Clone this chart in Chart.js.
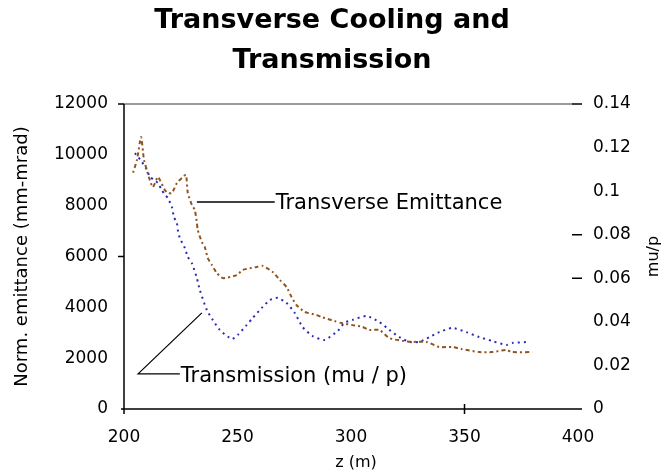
<!DOCTYPE html>
<html>
<head>
<meta charset="utf-8">
<script src="https://cdn.jsdelivr.net/npm/chart.js@4/dist/chart.umd.min.js"></script>
<style>
html,body{margin:0;padding:0;background:#fff;}
canvas{display:block;}
</style>
</head>
<body>
<canvas id="c" width="664" height="473"></canvas>
<script>
// ---- data ----
const titleLines = ['Transverse Cooling and', 'Transmission'];
const xTitle = 'z (m)';
const yLeftTitle = 'Norm. emittance (mm-mrad)';
const yRightTitle = 'mu/p';
const emitLabel = 'Transverse Emittance';
const transLabel = 'Transmission (mu / p)';

// Transverse emittance (left axis, mm-mrad)
const emitZ = [204, 205.7, 207.5, 208.4, 208.8, 211.4, 212.7, 214.9, 215.8, 218, 219.3, 221.1, 223.3, 225.5, 227.3, 228.1, 229.9, 231.2, 232.1, 232.5, 234.3, 235.6, 236.9, 238.7, 240.9, 243.5, 249.7, 252.3, 258.5, 261.1, 265.5, 268.6, 271.6, 273.8, 276, 279.6, 284.8, 287, 292.7, 295.8, 300.7, 305.1, 308.1, 312.5, 316.9, 322.6, 327, 333.2, 338.9, 344.6, 348.6, 356.5, 362.2, 368.4, 371, 379.8];
const emitVals = [9300, 9800, 10700, 10100, 9800, 9000, 8730, 9130, 9010, 8620, 8500, 8500, 8890, 9090, 9210, 8500, 8030, 7830, 7320, 7040, 6570, 6370, 5940, 5670, 5350, 5150, 5270, 5470, 5590, 5630, 5390, 5080, 4800, 4410, 4090, 3820, 3700, 3620, 3460, 3380, 3300, 3230, 3110, 3110, 2790, 2680, 2640, 2640, 2440, 2440, 2360, 2240, 2240, 2320, 2240, 2240];

// Transmission (right axis, mu/p)
const transZ = [204.8, 207.9, 210.1, 211.4, 213.6, 214.9, 216.7, 218, 219.3, 221.1, 222, 223.3, 223.7, 224.6, 226.8, 228.1, 229.9, 232.1, 233.4, 236.5, 239.1, 242.2, 247.5, 250.1, 254.1, 256.7, 260.7, 264.2, 267.7, 271.6, 275.2, 278.7, 283.1, 288.4, 294.1, 297.1, 300.7, 306.8, 312.5, 316.9, 321.3, 325.7, 330.1, 334.5, 338.9, 344.6, 350.8, 356.5, 362.2, 368.4, 371, 378.5];
const transVals = [0.1175, 0.1134, 0.1097, 0.1065, 0.1051, 0.1037, 0.1005, 0.0982, 0.0969, 0.0927, 0.0881, 0.0854, 0.0822, 0.0785, 0.0739, 0.0698, 0.0670, 0.0601, 0.0546, 0.0454, 0.0409, 0.0363, 0.0321, 0.0340, 0.0386, 0.0418, 0.0464, 0.0500, 0.0510, 0.0487, 0.0441, 0.0376, 0.0335, 0.0317, 0.0358, 0.0395, 0.0409, 0.0427, 0.0399, 0.0363, 0.0330, 0.0308, 0.0308, 0.0330, 0.0353, 0.0372, 0.0353, 0.0330, 0.0312, 0.0294, 0.0303, 0.0308];

// axis ranges
const xRange = [200, 400, 50];
const yRange = [0, 12000, 2000];
const y1Range = [0, 0.14, 0.02];

// ---- chart ----
const FONT = "'DejaVu Sans', 'Liberation Sans', sans-serif";
const toPts = (xs, ys) => xs.map((x, i) => ({x: x, y: ys[i]}));

const decoPlugin = {
  id: 'deco',
  beforeDraw(chart) {
    const ctx = chart.ctx;
    ctx.save();
    ctx.fillStyle = '#fff';
    ctx.fillRect(0, 0, chart.width, chart.height);
    ctx.restore();
  },
  afterDraw(chart) {
    const ctx = chart.ctx;
    const x = chart.scales.x, y = chart.scales.y, y1 = chart.scales.y1;
    const ca = chart.chartArea;
    ctx.save();
    // top grey line at the max of the left axis
    ctx.strokeStyle = '#9a9a9a';
    ctx.lineWidth = 2;
    ctx.beginPath();
    ctx.moveTo(ca.left, y.getPixelForValue(yRange[1]));
    ctx.lineTo(ca.right - 6, y.getPixelForValue(yRange[1]));
    ctx.stroke();
    // axes
    ctx.strokeStyle = '#000';
    ctx.lineWidth = 1.5;
    ctx.beginPath();
    ctx.moveTo(ca.left, ca.top);
    ctx.lineTo(ca.left, ca.bottom + 5);
    ctx.moveTo(ca.left - 3, ca.bottom);
    ctx.lineTo(ca.right + 4, ca.bottom);
    // left ticks
    [12000, 6000].forEach(v => {
      const py = y.getPixelForValue(v);
      ctx.moveTo(ca.left - 6, py); ctx.lineTo(ca.left, py);
    });
    // bottom ticks
    [200, 350].forEach(v => {
      const px = x.getPixelForValue(v);
      ctx.moveTo(px, ca.bottom - 5); ctx.lineTo(px, ca.bottom + 5);
    });
    // right ticks
    [0.14, 0.08, 0.06].forEach(v => {
      const py = y1.getPixelForValue(v);
      ctx.moveTo(ca.right - 6, py); ctx.lineTo(ca.right + 4, py);
    });
    ctx.stroke();

    // annotations
    ctx.lineWidth = 1.5;
    ctx.strokeStyle = '#000';
    ctx.beginPath();
    ctx.moveTo(x.getPixelForValue(232.1), y.getPixelForValue(8140));
    ctx.lineTo(x.getPixelForValue(266.4), y.getPixelForValue(8140));
    ctx.stroke();
    ctx.lineWidth = 1.2;
    ctx.beginPath();
    ctx.moveTo(x.getPixelForValue(234.3), y.getPixelForValue(3780));
    ctx.lineTo(x.getPixelForValue(206.2), y.getPixelForValue(1380));
    ctx.lineTo(x.getPixelForValue(224.6), y.getPixelForValue(1380));
    ctx.stroke();

    ctx.fillStyle = '#000';
    ctx.textBaseline = 'middle';
    ctx.textAlign = 'left';
    ctx.font = '21px ' + FONT;
    ctx.fillText(emitLabel, x.getPixelForValue(266.8), y.getPixelForValue(8100));
    ctx.fillText(transLabel, x.getPixelForValue(225), y.getPixelForValue(1260));

    // axis titles
    ctx.textAlign = 'center';
    ctx.font = '16px ' + FONT;
    ctx.fillText(xTitle, (ca.left + ca.right) / 2 + 5, 463);

    ctx.save();
    ctx.translate(22, (ca.top + ca.bottom) / 2);
    ctx.rotate(-Math.PI / 2);
    ctx.font = '18px ' + FONT;
    ctx.fillText(yLeftTitle, 0, 0);
    ctx.restore();

    ctx.save();
    ctx.translate(654, (ca.top + ca.bottom) / 2);
    ctx.rotate(-Math.PI / 2);
    ctx.font = '16px ' + FONT;
    ctx.fillText(yRightTitle, 0, 0);
    ctx.restore();

    ctx.restore();
  }
};

new Chart(document.getElementById('c'), {
  type: 'line',
  data: {
    datasets: [
      {
        label: emitLabel,
        data: toPts(emitZ, emitVals),
        yAxisID: 'y',
        borderColor: '#8f5420',
        borderWidth: 2,
        borderDash: [2, 3, 4, 3],
        pointRadius: 0,
        tension: 0.2,
        fill: false
      },
      {
        label: transLabel,
        data: toPts(transZ, transVals),
        yAxisID: 'y1',
        borderColor: '#2a2ab8',
        borderWidth: 2,
        borderDash: [2, 4],
        pointRadius: 0,
        tension: 0.2,
        fill: false
      }
    ]
  },
  options: {
    responsive: false,
    animation: false,
    devicePixelRatio: 1,
    layout: {padding: 0},
    plugins: {
      legend: {display: false},
      tooltip: {enabled: false},
      title: {
        display: true,
        text: titleLines,
        color: '#000',
        font: {family: FONT, size: 27, weight: 'bold', lineHeight: 40 / 27},
        padding: {top: 1, bottom: 23}
      }
    },
    scales: {
      x: {
        type: 'linear',
        position: 'bottom',
        min: xRange[0], max: xRange[1],
        ticks: {stepSize: xRange[2], color: '#000', font: {family: FONT, size: 17}, padding: 18, callback: v => String(v)},
        grid: {display: false, drawTicks: false},
        border: {display: false},
        afterFit(s) { s.height = 64; }
      },
      y: {
        type: 'linear',
        position: 'left',
        min: yRange[0], max: yRange[1],
        ticks: {stepSize: yRange[2], color: '#000', font: {family: FONT, size: 17}, padding: 16, callback: v => String(v)},
        grid: {display: false, drawTicks: false},
        border: {display: false},
        afterFit(s) { s.width = 124; }
      },
      y1: {
        type: 'linear',
        position: 'right',
        min: y1Range[0], max: y1Range[1],
        ticks: {stepSize: y1Range[2], color: '#000', font: {family: FONT, size: 17}, padding: 15, callback: v => String(+v.toFixed(2))},
        grid: {display: false, drawTicks: false},
        border: {display: false},
        afterFit(s) { s.width = 86; }
      }
    }
  },
  plugins: [decoPlugin]
});
</script>
</body>
</html>
